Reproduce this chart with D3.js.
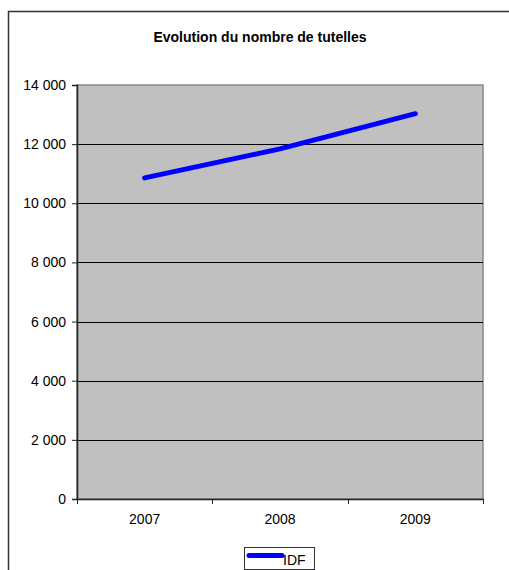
<!DOCTYPE html>
<html>
<head>
<meta charset="utf-8">
<script src="https://cdn.jsdelivr.net/npm/d3@7"></script>
<style>
  html, body { margin: 0; padding: 0; background: #fff; }
  svg { display: block; font-family: Arial, "Liberation Sans", sans-serif; }
</style>
</head>
<body>
<svg id="chart" width="509" height="570"></svg>
<script>
// Number of guardianships (tutelles) per year, Île-de-France
const years = ["2007", "2008", "2009"];
const idfValues = [10860, 11840, 13030];
const yTicks = [0, 2000, 4000, 6000, 8000, 10000, 12000, 14000];
const seriesName = "IDF";
const chartTitle = "Evolution du nombre de tutelles";

const FONT = "Arial, 'Liberation Sans', sans-serif";
const svg = d3.select("#chart");
const plot = { left: 77, right: 483, top: 85, bottom: 499 };

// Outer chart frame (continues past the right and bottom edges)
svg.append("path")
  .attr("d", `M8.5,600 V11.5 H600`)
  .attr("fill", "none")
  .attr("stroke", "#333")
  .attr("stroke-width", 1.5);

svg.append("text")
  .attr("x", 260).attr("y", 41.5)
  .attr("text-anchor", "middle")
  .attr("font-size", 14).attr("font-weight", "bold")
  .attr("fill", "#000")
  .text(chartTitle);

const x = d3.scaleBand().domain(years).range([plot.left, plot.right]);
const y = d3.scaleLinear().domain([0, 14000]).range([plot.bottom, plot.top]);

// Plot background
svg.append("rect")
  .attr("x", plot.left).attr("y", plot.top)
  .attr("width", plot.right - plot.left).attr("height", plot.bottom - plot.top)
  .attr("fill", "#c0c0c0")
  .attr("stroke", "#888").attr("stroke-width", 1.5);

// Horizontal gridlines
svg.append("g").selectAll("line")
  .data(yTicks.filter(t => t > 0 && t < 14000))
  .join("line")
  .attr("x1", plot.left).attr("x2", plot.right)
  .attr("y1", d => Math.round(y(d)) + 0.5).attr("y2", d => Math.round(y(d)) + 0.5)
  .attr("stroke", "#000").attr("stroke-width", 1);

// Y axis
const yAxis = svg.append("g")
  .attr("transform", `translate(${plot.left},0)`)
  .call(d3.axisLeft(y).tickValues(yTicks).tickSize(5).tickPadding(6)
    .tickFormat(d => d3.format(",")(d).replace(/,/g, " ")));
yAxis.select(".domain").attr("stroke", "#222").attr("stroke-width", 1.5);
yAxis.selectAll(".tick line").attr("stroke", "#222");
yAxis.selectAll("text").attr("font-size", 14).attr("fill", "#000")
  .attr("font-family", FONT);

// X axis with ticks at band boundaries
const xAxis = svg.append("g")
  .attr("transform", `translate(0,${plot.bottom})`)
  .call(d3.axisBottom(x).tickSize(0).tickPadding(15));
xAxis.select(".domain").attr("stroke", "#222").attr("stroke-width", 1.5);
xAxis.selectAll("text").attr("font-size", 14).attr("fill", "#000")
  .attr("font-family", FONT);
const bounds = years.map(d => x(d)).concat([x(years[years.length - 1]) + x.bandwidth()]);
xAxis.selectAll("line.bound")
  .data(bounds)
  .join("line")
  .attr("class", "bound")
  .attr("x1", d => Math.round(d) + 0.5).attr("x2", d => Math.round(d) + 0.5)
  .attr("y1", 0).attr("y2", 5)
  .attr("stroke", "#222");

// Series line
const line = d3.line()
  .x((d, i) => x(years[i]) + x.bandwidth() / 2)
  .y(d => y(d));
svg.append("path")
  .datum(idfValues)
  .attr("d", line)
  .attr("fill", "none")
  .attr("stroke", "#0000ff")
  .attr("stroke-width", 5)
  .attr("stroke-linecap", "round")
  .attr("stroke-linejoin", "round");

// Legend
const legend = svg.append("g").attr("transform", "translate(244,547)");
legend.append("rect")
  .attr("x", 0.5).attr("y", 0.5).attr("width", 70).attr("height", 22)
  .attr("fill", "#fff").attr("stroke", "#333").attr("stroke-width", 1);
legend.append("line")
  .attr("x1", 5).attr("x2", 38).attr("y1", 8.5).attr("y2", 8.5)
  .attr("stroke", "#0000ff").attr("stroke-width", 5).attr("stroke-linecap", "round");
legend.append("text")
  .attr("x", 39).attr("y", 18)
  .attr("font-size", 14).attr("fill", "#000")
  .text(seriesName);
</script>
</body>
</html>
